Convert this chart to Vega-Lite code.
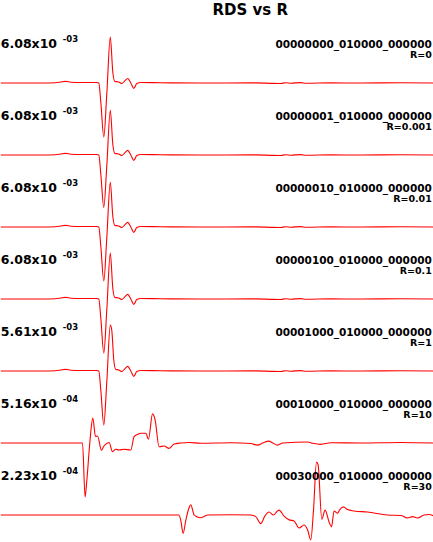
{
  "$schema": "https://vega.github.io/schema/vega-lite/v6.json",
  "width": 433,
  "height": 72,
  "padding": {"top": 3, "left": -2.2, "right": 0, "bottom": 0},
  "bounds": "flush",
  "background": "white",
  "title": {"text": "RDS vs R", "fontSize": 15, "font": "DejaVu Sans", "fontWeight": "bold", "anchor": "middle", "dx": 33, "offset": 13, "color": "black"},
  "config": {"view": {"stroke": null}, "facet": {"spacing": 0}},
  "data": {"values": [
    {"p":1,"mant":"6.08x10","exp":"-03","name":"00000000_010000_000000","r":"R=0"},
    {"p":2,"mant":"6.08x10","exp":"-03","name":"00000001_010000_000000","r":"R=0.001"},
    {"p":3,"mant":"6.08x10","exp":"-03","name":"00000010_010000_000000","r":"R=0.01"},
    {"p":4,"mant":"6.08x10","exp":"-03","name":"00000100_010000_000000","r":"R=0.1"},
    {"p":5,"mant":"5.61x10","exp":"-03","name":"00001000_010000_000000","r":"R=1"},
    {"p":6,"mant":"5.16x10","exp":"-04","name":"00010000_010000_000000","r":"R=10"},
    {"p":7,"mant":"2.23x10","exp":"-04","name":"00030000_010000_000000","r":"R=30"},

    {"p":1,"t":0,"a":0},{"p":1,"t":40,"a":0},{"p":1,"t":55,"a":0.005},{"p":1,"t":60,"a":0.02},{"p":1,"t":65,"a":0.03},{"p":1,"t":70,"a":0.015},{"p":1,"t":80,"a":0.01},{"p":1,"t":96,"a":0.01},{"p":1,"t":98,"a":0},{"p":1,"t":100,"a":-0.35},{"p":1,"t":103,"a":-1.0},{"p":1,"t":106,"a":-0.2},{"p":1,"t":109.5,"a":0.85},{"p":1,"t":112,"a":0.2},{"p":1,"t":114,"a":0.03},{"p":1,"t":118,"a":0.02},{"p":1,"t":121,"a":-0.01},{"p":1,"t":124,"a":0.04},{"p":1,"t":127,"a":0.085},{"p":1,"t":130,"a":0.0},{"p":1,"t":133,"a":-0.1},{"p":1,"t":136,"a":-0.01},{"p":1,"t":140,"a":0.01},{"p":1,"t":160,"a":0.005},{"p":1,"t":200,"a":0},{"p":1,"t":250,"a":0.003},{"p":1,"t":280,"a":-0.008},{"p":1,"t":285,"a":0.005},{"p":1,"t":290,"a":-0.003},{"p":1,"t":300,"a":0.008},{"p":1,"t":305,"a":-0.005},{"p":1,"t":330,"a":0.003},{"p":1,"t":360,"a":0},{"p":1,"t":400,"a":0.004},{"p":1,"t":433,"a":0},

    {"p":2,"t":0,"a":0},{"p":2,"t":40,"a":0},{"p":2,"t":55,"a":0.005},{"p":2,"t":60,"a":0.02},{"p":2,"t":65,"a":0.03},{"p":2,"t":70,"a":0.015},{"p":2,"t":80,"a":0.01},{"p":2,"t":96,"a":0.01},{"p":2,"t":98,"a":0},{"p":2,"t":100,"a":-0.35},{"p":2,"t":103,"a":-0.97},{"p":2,"t":106,"a":-0.2},{"p":2,"t":109.5,"a":0.83},{"p":2,"t":112,"a":0.2},{"p":2,"t":114,"a":0.03},{"p":2,"t":118,"a":0.02},{"p":2,"t":121,"a":-0.01},{"p":2,"t":124,"a":0.04},{"p":2,"t":127,"a":0.085},{"p":2,"t":130,"a":0.0},{"p":2,"t":133,"a":-0.1},{"p":2,"t":136,"a":-0.01},{"p":2,"t":140,"a":0.01},{"p":2,"t":160,"a":0.005},{"p":2,"t":200,"a":0},{"p":2,"t":250,"a":0.003},{"p":2,"t":280,"a":-0.008},{"p":2,"t":285,"a":0.005},{"p":2,"t":290,"a":-0.003},{"p":2,"t":300,"a":0.008},{"p":2,"t":305,"a":-0.005},{"p":2,"t":330,"a":0.003},{"p":2,"t":360,"a":0},{"p":2,"t":400,"a":0.004},{"p":2,"t":433,"a":0},

    {"p":3,"t":0,"a":0},{"p":3,"t":40,"a":0},{"p":3,"t":55,"a":0.005},{"p":3,"t":60,"a":0.02},{"p":3,"t":65,"a":0.03},{"p":3,"t":70,"a":0.015},{"p":3,"t":80,"a":0.01},{"p":3,"t":96,"a":0.01},{"p":3,"t":98,"a":0},{"p":3,"t":100,"a":-0.35},{"p":3,"t":103,"a":-1.0},{"p":3,"t":106,"a":-0.2},{"p":3,"t":109.5,"a":0.83},{"p":3,"t":112,"a":0.2},{"p":3,"t":114,"a":0.03},{"p":3,"t":118,"a":0.02},{"p":3,"t":121,"a":-0.01},{"p":3,"t":124,"a":0.04},{"p":3,"t":127,"a":0.085},{"p":3,"t":130,"a":0.0},{"p":3,"t":133,"a":-0.1},{"p":3,"t":136,"a":-0.01},{"p":3,"t":140,"a":0.01},{"p":3,"t":160,"a":0.005},{"p":3,"t":200,"a":0},{"p":3,"t":250,"a":0.003},{"p":3,"t":280,"a":-0.008},{"p":3,"t":285,"a":0.005},{"p":3,"t":290,"a":-0.003},{"p":3,"t":300,"a":0.008},{"p":3,"t":305,"a":-0.005},{"p":3,"t":330,"a":0.003},{"p":3,"t":360,"a":0},{"p":3,"t":400,"a":0.004},{"p":3,"t":433,"a":0},

    {"p":4,"t":0,"a":0},{"p":4,"t":40,"a":0},{"p":4,"t":55,"a":0.005},{"p":4,"t":60,"a":0.02},{"p":4,"t":65,"a":0.03},{"p":4,"t":70,"a":0.015},{"p":4,"t":80,"a":0.01},{"p":4,"t":96,"a":0.01},{"p":4,"t":98,"a":0},{"p":4,"t":100,"a":-0.35},{"p":4,"t":103,"a":-1.0},{"p":4,"t":106,"a":-0.2},{"p":4,"t":109.5,"a":0.85},{"p":4,"t":112,"a":0.2},{"p":4,"t":114,"a":0.03},{"p":4,"t":118,"a":0.02},{"p":4,"t":121,"a":-0.01},{"p":4,"t":124,"a":0.04},{"p":4,"t":127,"a":0.085},{"p":4,"t":130,"a":0.0},{"p":4,"t":133,"a":-0.1},{"p":4,"t":136,"a":-0.01},{"p":4,"t":140,"a":0.01},{"p":4,"t":160,"a":0.005},{"p":4,"t":200,"a":0},{"p":4,"t":250,"a":0.003},{"p":4,"t":280,"a":-0.008},{"p":4,"t":285,"a":0.005},{"p":4,"t":290,"a":-0.003},{"p":4,"t":300,"a":0.008},{"p":4,"t":305,"a":-0.005},{"p":4,"t":330,"a":0.003},{"p":4,"t":360,"a":0},{"p":4,"t":400,"a":0.004},{"p":4,"t":433,"a":0},

    {"p":5,"t":0,"a":0},{"p":5,"t":40,"a":0},{"p":5,"t":55,"a":0.005},{"p":5,"t":60,"a":0.02},{"p":5,"t":65,"a":0.03},{"p":5,"t":70,"a":0.015},{"p":5,"t":80,"a":0.01},{"p":5,"t":96,"a":0.01},{"p":5,"t":98,"a":0},{"p":5,"t":100,"a":-0.35},{"p":5,"t":103,"a":-1.0},{"p":5,"t":106,"a":-0.2},{"p":5,"t":109.5,"a":0.85},{"p":5,"t":111,"a":0.75},{"p":5,"t":113,"a":0.2},{"p":5,"t":115,"a":0.03},{"p":5,"t":118,"a":0.02},{"p":5,"t":121,"a":-0.01},{"p":5,"t":124,"a":0.04},{"p":5,"t":127,"a":0.085},{"p":5,"t":130,"a":0.0},{"p":5,"t":133,"a":-0.1},{"p":5,"t":136,"a":-0.01},{"p":5,"t":140,"a":0.01},{"p":5,"t":160,"a":0.005},{"p":5,"t":200,"a":0},{"p":5,"t":250,"a":0.003},{"p":5,"t":280,"a":-0.008},{"p":5,"t":285,"a":0.005},{"p":5,"t":290,"a":-0.003},{"p":5,"t":300,"a":0.008},{"p":5,"t":305,"a":-0.005},{"p":5,"t":330,"a":0.003},{"p":5,"t":360,"a":0},{"p":5,"t":400,"a":0.004},{"p":5,"t":433,"a":0},

    {"p":6,"t":0,"a":0},{"p":6,"t":80,"a":0},{"p":6,"t":81.7,"a":0},{"p":6,"t":84.3,"a":-1.0},{"p":6,"t":86,"a":-0.7},{"p":6,"t":89,"a":0.0},{"p":6,"t":92,"a":0.46},{"p":6,"t":94.7,"a":0.12},{"p":6,"t":96.7,"a":0.13},{"p":6,"t":100.7,"a":-0.135},{"p":6,"t":103,"a":-0.06},{"p":6,"t":106.7,"a":0.0},{"p":6,"t":108.3,"a":0.01},{"p":6,"t":111.7,"a":-0.16},{"p":6,"t":115,"a":-0.115},{"p":6,"t":118.3,"a":-0.13},{"p":6,"t":123.3,"a":-0.115},{"p":6,"t":130,"a":-0.13},{"p":6,"t":133.3,"a":0.12},{"p":6,"t":137,"a":0.16},{"p":6,"t":140,"a":0.18},{"p":6,"t":145,"a":0.18},{"p":6,"t":147.7,"a":0.07},{"p":6,"t":151.7,"a":0.54},{"p":6,"t":154.3,"a":0.43},{"p":6,"t":158.3,"a":-0.07},{"p":6,"t":163.3,"a":-0.055},{"p":6,"t":168.3,"a":-0.1},{"p":6,"t":173.3,"a":-0.02},{"p":6,"t":180,"a":0.0},{"p":6,"t":188.3,"a":0.01},{"p":6,"t":200,"a":-0.005},{"p":6,"t":230,"a":0.005},{"p":6,"t":250,"a":-0.01},{"p":6,"t":256.7,"a":-0.04},{"p":6,"t":262,"a":0.0},{"p":6,"t":268,"a":0.035},{"p":6,"t":272,"a":0.0},{"p":6,"t":276.7,"a":-0.04},{"p":6,"t":282,"a":0},{"p":6,"t":306.7,"a":0.02},{"p":6,"t":312,"a":-0.005},{"p":6,"t":320,"a":-0.025},{"p":6,"t":330,"a":0.005},{"p":6,"t":360,"a":0.0},{"p":6,"t":400,"a":0.01},{"p":6,"t":433,"a":0},

    {"p":7,"t":0,"a":0},{"p":7,"t":178,"a":0},{"p":7,"t":180,"a":-0.1},{"p":7,"t":182.3,"a":-0.34},{"p":7,"t":185,"a":-0.1},{"p":7,"t":188,"a":0.12},{"p":7,"t":190,"a":0.19},{"p":7,"t":193.3,"a":0.0},{"p":7,"t":196,"a":-0.03},{"p":7,"t":200,"a":-0.05},{"p":7,"t":204,"a":-0.02},{"p":7,"t":206.7,"a":0.0},{"p":7,"t":230,"a":0.005},{"p":7,"t":250,"a":0.0},{"p":7,"t":255,"a":-0.03},{"p":7,"t":260,"a":-0.16},{"p":7,"t":264,"a":-0.02},{"p":7,"t":268.3,"a":0.055},{"p":7,"t":272.7,"a":0.0},{"p":7,"t":276,"a":0.06},{"p":7,"t":278.3,"a":0.09},{"p":7,"t":283.3,"a":-0.02},{"p":7,"t":288.3,"a":-0.09},{"p":7,"t":293.3,"a":-0.11},{"p":7,"t":298.3,"a":-0.24},{"p":7,"t":303.3,"a":-0.185},{"p":7,"t":306.7,"a":-0.27},{"p":7,"t":310,"a":-0.46},{"p":7,"t":312.7,"a":0.09},{"p":7,"t":315.7,"a":0.98},{"p":7,"t":317.3,"a":0.93},{"p":7,"t":321,"a":-0.08},{"p":7,"t":324.3,"a":0.09},{"p":7,"t":328.3,"a":-0.13},{"p":7,"t":330.7,"a":-0.22},{"p":7,"t":333.3,"a":0.075},{"p":7,"t":336.7,"a":0.035},{"p":7,"t":339,"a":0.1},{"p":7,"t":342.7,"a":0.15},{"p":7,"t":346.7,"a":0.1},{"p":7,"t":353.3,"a":0.075},{"p":7,"t":366.7,"a":0.055},{"p":7,"t":386.7,"a":0.0},{"p":7,"t":400,"a":-0.01},{"p":7,"t":406.7,"a":-0.055},{"p":7,"t":411.7,"a":-0.03},{"p":7,"t":416.7,"a":-0.055},{"p":7,"t":423.3,"a":0.0},{"p":7,"t":428.3,"a":0.01},{"p":7,"t":433,"a":-0.02}
  ]},
  "facet": {"row": {"field": "p", "type": "ordinal", "header": null}},
  "spacing": {"row": 0},
  "spec": {
    "width": 433,
    "height": 72,
    "layer": [
      {
        "transform": [{"filter": "isValid(datum.t)"}],
        "mark": {"type": "line", "color": "#ff0000", "strokeWidth": 1.1, "interpolate": "monotone", "clip": false},
        "encoding": {
          "x": {"field": "t", "type": "quantitative", "scale": {"domain": [0, 433], "nice": false, "zero": false}, "axis": null},
          "y": {"field": "a", "type": "quantitative", "scale": {"domain": [-0.37, 0.963], "nice": false, "zero": false}, "axis": null},
          "order": {"field": "t", "type": "quantitative"}
        }
      },
      {
        "transform": [{"filter": "isValid(datum.name)"}],
        "mark": {"type": "text", "align": "left", "baseline": "alphabetic", "font": "DejaVu Sans", "fontWeight": "bold", "fontSize": 12.5, "color": "black"},
        "encoding": {"x": {"datum": 0, "type": "quantitative"}, "y": {"datum": 0.648, "type": "quantitative"}, "text": {"field": "mant"}}
      },
      {
        "transform": [{"filter": "isValid(datum.name)"}],
        "mark": {"type": "text", "align": "left", "baseline": "alphabetic", "font": "DejaVu Sans", "fontWeight": "bold", "fontSize": 8.5, "color": "black"},
        "encoding": {"x": {"datum": 62, "type": "quantitative"}, "y": {"datum": 0.759, "type": "quantitative"}, "text": {"field": "exp"}}
      },
      {
        "transform": [{"filter": "isValid(datum.name)"}],
        "mark": {"type": "text", "align": "right", "baseline": "alphabetic", "font": "DejaVu Sans", "fontWeight": "bold", "fontSize": 10.5, "color": "black"},
        "encoding": {"x": {"datum": 431, "type": "quantitative"}, "y": {"datum": 0.64, "type": "quantitative"}, "text": {"field": "name"}}
      },
      {
        "transform": [{"filter": "isValid(datum.name)"}],
        "mark": {"type": "text", "align": "right", "baseline": "alphabetic", "font": "DejaVu Sans", "fontWeight": "bold", "fontSize": 9.5, "color": "black"},
        "encoding": {"x": {"datum": 431, "type": "quantitative"}, "y": {"datum": 0.468, "type": "quantitative"}, "text": {"field": "r"}}
      }
    ]
  }
}
